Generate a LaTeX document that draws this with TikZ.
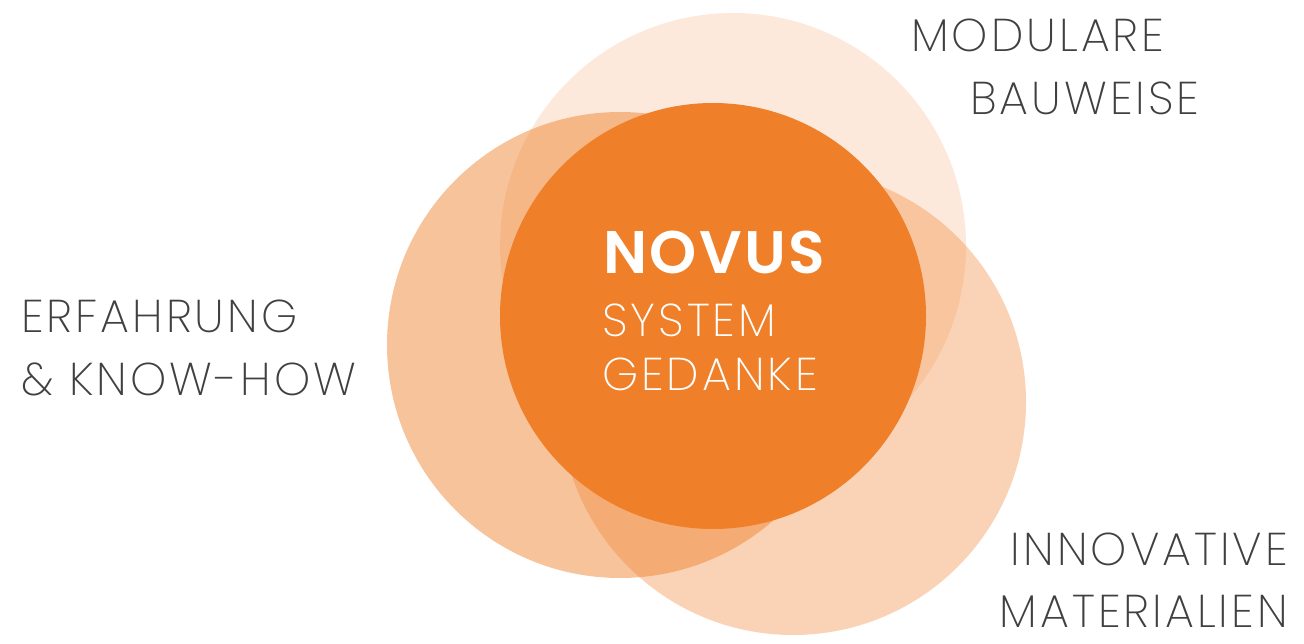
\documentclass[tikz,border=0pt]{standalone}
\usepackage{fontspec}
\newfontfamily\lightfont[LetterSpace=6.5]{Poppins ExtraLight}
\newfontfamily\boldfont[LetterSpace=4]{Poppins SemiBold}
\definecolor{novusorange}{HTML}{EF7F29}
\definecolor{labelgrey}{HTML}{404040}
\begin{document}
\begin{tikzpicture}[x=1pt,y=-1pt,
  ring/.style={fill=novusorange,fill opacity=#1,draw=none},
  label/.style={font=\lightfont\fontsize{46}{46}\selectfont,text=labelgrey,inner sep=0pt},
  inlabel/.style={font=\lightfont\fontsize{46}{46}\selectfont,text=white,inner sep=0pt},
  headlabel/.style={font=\boldfont\fontsize{60}{60}\selectfont,text=white,inner sep=0pt}]
\useasboundingbox (0,0) rectangle (1304,644);
% circles
\fill[ring=0.17] (733,246) circle[radius=233pt];
\fill[ring=0.47] (620,345) circle[radius=233pt];
\fill[ring=0.34] (793,402) circle[radius=233pt];
\fill[novusorange] (713,316) circle[radius=213pt];
% centre text
\node[headlabel,anchor=base west] (novus) at (603,274) {NOVUS};
\node[inlabel,anchor=base west] (system) at (602,337) {SYSTEM};
\node[inlabel,anchor=base west] (gedanke) at (602,390) {GEDANKE};
% outer labels
\node[label,anchor=base west] (mod1) at (911,52) {MODULARE};
\node[label,anchor=base west] (mod2) at (970,115) {BAUWEISE};
\node[label,anchor=base west] (erf1) at (21,333) {ERFAHRUNG};
\node[label,anchor=base west] (erf2) at (21,395) {\& KNOW-HOW};
\node[label,anchor=base east] (inn1) at (1288,565) {INNOVATIVE};
\node[label,anchor=base east] (inn2) at (1288,627) {MATERIALIEN};
\end{tikzpicture}
\end{document}
